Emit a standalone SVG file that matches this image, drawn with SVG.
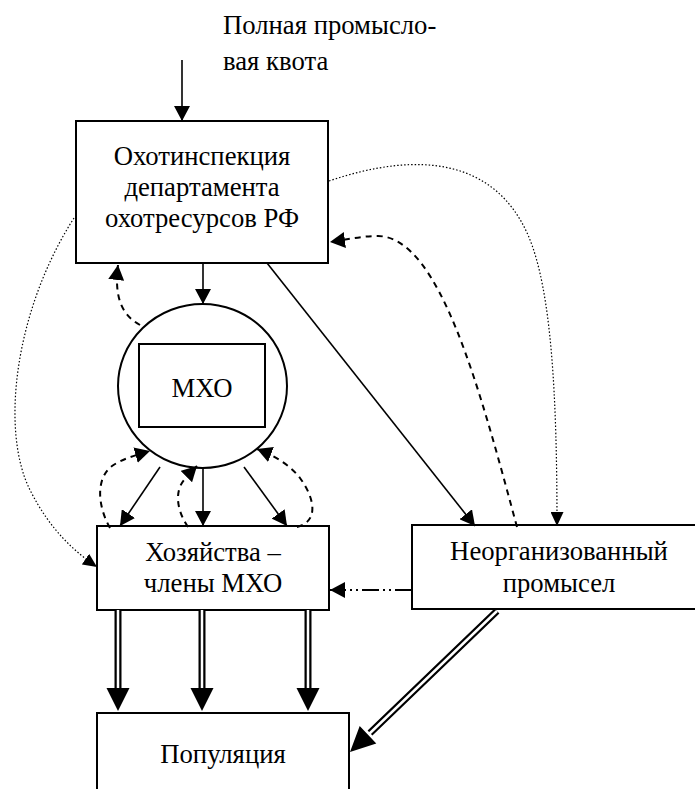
<svg xmlns="http://www.w3.org/2000/svg" width="695" height="789" viewBox="0 0 695 789">
<style>
text{font-family:"Liberation Serif","Times New Roman",serif;font-size:26.7px;fill:#000}
.c{text-anchor:middle}
.box{fill:#fff;stroke:#000;stroke-width:2}
.ln{fill:none;stroke:#000;stroke-width:1.6}
.dash{fill:none;stroke:#000;stroke-width:2;stroke-dasharray:6,5}
.dot{fill:none;stroke:#000;stroke-width:1.2;stroke-dasharray:1.5,2}
.dd{fill:none;stroke:#000;stroke-width:2;stroke-dasharray:17,4,2,4,2,4}
.dblo{stroke:#000;stroke-width:7;fill:none}
.dbli{stroke:#fff;stroke-width:2.5;fill:none}
</style>
<defs>
<marker id="ah" viewBox="0 0 15 16" refX="15" refY="8" markerWidth="15" markerHeight="16" markerUnits="userSpaceOnUse" orient="auto"><path d="M0,0 L15,8 L0,16 z" fill="#000" stroke="none"/></marker>
<marker id="ahs" viewBox="0 0 14 13" refX="14" refY="6.5" markerWidth="14" markerHeight="13" markerUnits="userSpaceOnUse" orient="auto"><path d="M0,0 L14,6.5 L0,13 z" fill="#000" stroke="none"/></marker>
</defs>

<g id="label-quota">
<text x="223" y="34">Полная промысло-</text>
<text x="223" y="70">вая квота</text>
</g>

<g id="node-inspection">
<rect class="box" x="76" y="121" width="252" height="142"/>
<text class="c" x="202" y="165">Охотинспекция</text>
<text class="c" x="202" y="196">департамента</text>
<text class="c" x="202" y="227">охотресурсов РФ</text>
</g>

<g id="node-mho">
<ellipse cx="202.5" cy="386" rx="84.5" ry="82" fill="#fff" stroke="#000" stroke-width="2"/>
<rect class="box" x="139" y="344" width="126" height="83"/>
<text class="c" x="202" y="397">МХО</text>
</g>

<g id="node-farms">
<rect class="box" x="97" y="526" width="232" height="84"/>
<text class="c" x="213" y="561">Хозяйства –</text>
<text class="c" x="213" y="592">члены МХО</text>
</g>

<g id="node-unorg">
<rect class="box" x="412" y="525" width="300" height="84"/>
<text class="c" x="559" y="560">Неорганизованный</text>
<text class="c" x="559" y="592">промысел</text>
</g>

<g id="node-population">
<rect class="box" x="97" y="713" width="252" height="100"/>
<text class="c" x="223" y="763">Популяция</text>
</g>

<g id="connectors">
<path class="ln" d="M182,60 L182,121" marker-end="url(#ah)"/>
<path class="ln" d="M203,263 L203,304" marker-end="url(#ah)"/>
<path class="ln" d="M267,263 L475,526" marker-end="url(#ah)"/>
<path class="ln" d="M160,467 L120,526" marker-end="url(#ah)"/>
<path class="ln" d="M203,468 L203,526" marker-end="url(#ah)"/>
<path class="ln" d="M244,467 L287,526" marker-end="url(#ah)"/>
<path class="dash" d="M140,325 C122,315 114,298 118,265" marker-end="url(#ah)"/>
<path class="dash" d="M517,527 C480,390 440,237 378,236 C360,236 345,240 330,242" marker-end="url(#ah)"/>
<path class="dash" d="M110,528 C97,505 96,478 112,466 C122,459 136,455 150,451" marker-end="url(#ah)"/>
<path class="dash" d="M188,527 C175,508 175,488 186,478 C190,474 193,470 197,466" marker-end="url(#ah)"/>
<path class="dash" d="M297,527 C318,522 316,500 300,478 C290,465 275,456 257,449" marker-end="url(#ah)"/>
<path class="dot" d="M74,218 C15,310 0,430 30,490 C50,530 75,552 97,567" marker-end="url(#ahs)"/>
<path class="dot" d="M329,181 C420,150 495,160 528,235 C552,290 557,400 557,526" marker-end="url(#ahs)"/>
<path class="dd" d="M412,590 L330,590" marker-end="url(#ah)"/>
<path class="dblo" d="M118,610 L118,690 M202,610 L202,690 M308,610 L308,690 M497,611 L370,733"/>
<path class="dbli" d="M118,610 L118,692 M202,610 L202,692 M308,610 L308,692 M497,611 L368,735"/>
<path d="M106.5,688 L129.5,688 L118,711 z M190.5,688 L213.5,688 L202,711 z M296.5,688 L319.5,688 L308,711 z M376.3,743.4 L359.7,726 L350,752 z" fill="#000"/>
</g>
</svg>
